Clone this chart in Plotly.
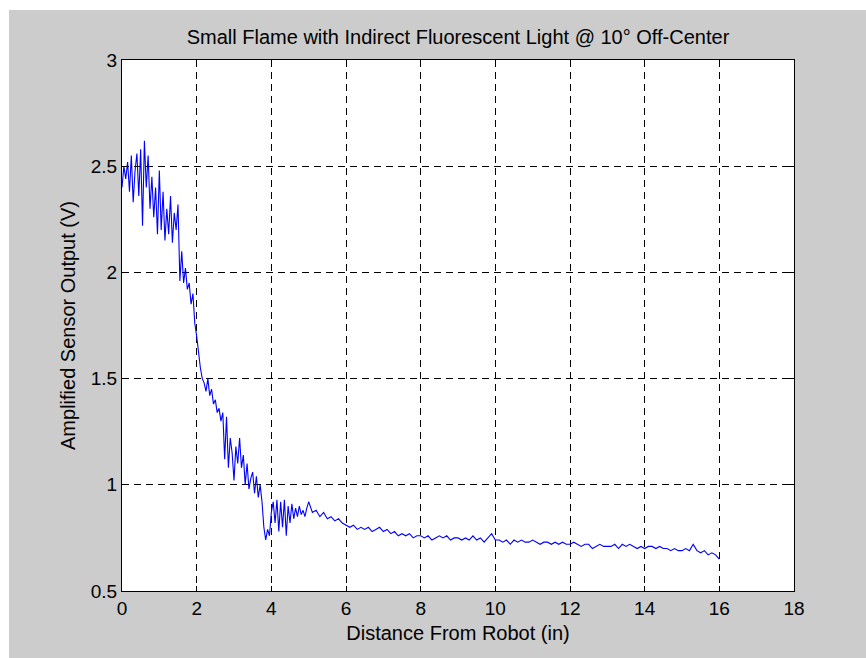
import numpy as np
import plotly.graph_objects as go

# Distances (in): fine sampling near the flame, coarser further away
dist_near = np.round(np.arange(0, 5.0001, 0.05), 2)
dist_far = np.round(np.arange(5.1, 16.0001, 0.1), 2)

volts_near = [
    2.40, 2.50, 2.44, 2.52, 2.38, 2.55, 2.33, 2.48, 2.56, 2.36,
    2.58, 2.22, 2.62, 2.40, 2.55, 2.30, 2.45, 2.26, 2.40, 2.18,
    2.48, 2.20, 2.38, 2.15, 2.30, 2.18, 2.36, 2.14, 2.28, 2.20,
    2.32, 1.96, 2.10, 1.95, 2.02, 1.92, 1.95, 1.85, 1.90, 1.76,
    1.70, 1.62, 1.55, 1.50, 1.48, 1.44, 1.50, 1.42, 1.45, 1.38,
    1.40, 1.34, 1.36, 1.30, 1.34, 1.12, 1.32, 1.08, 1.22, 1.15,
    1.02, 1.18, 1.10, 1.22, 1.08, 1.14, 1.00, 1.10, 0.98, 1.03,
    1.06, 0.96, 1.04, 0.94, 1.00, 0.92, 0.80, 0.74, 0.79, 0.76,
    0.87, 0.92, 0.82, 0.93, 0.78, 0.92, 0.80, 0.93, 0.76, 0.90,
    0.82, 0.91, 0.84, 0.89, 0.85, 0.90, 0.86, 0.88, 0.85, 0.89,
    0.92,
]
volts_far = [
    0.87, 0.88, 0.85, 0.87, 0.84, 0.85, 0.83, 0.84, 0.82, 0.81,
    0.80, 0.81, 0.79, 0.80, 0.79, 0.80, 0.78, 0.79, 0.80, 0.78,
    0.79, 0.77, 0.78, 0.76, 0.77, 0.76, 0.77, 0.75, 0.76, 0.76,
    0.75, 0.76, 0.74, 0.75, 0.76, 0.75, 0.76, 0.74, 0.75, 0.75,
    0.74, 0.75, 0.74, 0.76, 0.74, 0.75, 0.73, 0.75, 0.77, 0.74,
    0.74, 0.73, 0.74, 0.72, 0.74, 0.73, 0.74, 0.73, 0.73, 0.74,
    0.73, 0.72, 0.73, 0.73, 0.72, 0.73, 0.72, 0.73, 0.72, 0.72,
    0.73, 0.72, 0.71, 0.72, 0.72, 0.70, 0.71, 0.72, 0.71, 0.71,
    0.71, 0.72, 0.70, 0.72, 0.71, 0.72, 0.71, 0.70, 0.71, 0.70,
    0.71, 0.71, 0.70, 0.71, 0.70, 0.70, 0.69, 0.70, 0.69, 0.69,
    0.70, 0.69, 0.72, 0.69, 0.68, 0.69, 0.67, 0.68, 0.67, 0.65,
]

x_ticks = [0, 2, 4, 6, 8, 10, 12, 14, 16, 18]
y_ticks = [0.5, 1, 1.5, 2, 2.5, 3]
y_tick_text = ["0.5", "1", "1.5", "2", "2.5", "3"]

x = list(dist_near) + list(dist_far)
y = volts_near + volts_far

FONT = "Liberation Sans, Arial, sans-serif"
GRAY = "#cccccc"

fig = go.Figure()
fig.add_trace(go.Scatter(x=x, y=y, mode="lines",
                         line=dict(color="#0000ff", width=1.1),
                         showlegend=False, hoverinfo="x+y"))

W, H = 866, 658
L, T, R, B = 122, 60, 72, 67
pw, ph = W - L - R, H - T - B

axis_common = dict(
    showline=True, linecolor="black", linewidth=1, mirror="ticks",
    ticks="inside", ticklen=5, tickcolor="black",
    showgrid=True, gridcolor="black", gridwidth=1, griddash="7px,5px",
    zeroline=False, tickfont=dict(family=FONT, size=19, color="black"),
)

fig.update_layout(
    width=W, height=H,
    margin=dict(l=L, r=R, t=T, b=B, pad=0),
    paper_bgcolor=GRAY, plot_bgcolor="white",
    title=dict(text="Small Flame with Indirect Fluorescent Light @ 10° Off-Center",
               x=0.5, xref="paper", xanchor="center",
               y=(H - 37) / H, yanchor="middle",
               font=dict(family=FONT, size=20, color="black")),
    xaxis=dict(range=[0, 18], tickvals=x_ticks, **axis_common,
               title=dict(text="Distance From Robot (in)", standoff=8,
                          font=dict(family=FONT, size=20, color="black"))),
    yaxis=dict(range=[0.5, 3], tickvals=y_ticks, ticktext=y_tick_text, **axis_common,
               title=dict(text="Amplified Sensor Output (V)", standoff=9,
                          font=dict(family=FONT, size=20, color="black"))),
)

# white strips along the top and left edges of the image
fig.add_shape(type="rect", xref="paper", yref="paper", layer="below",
              x0=-L / pw, x1=(W - L) / pw, y0=(ph + T - 10) / ph, y1=(ph + T) / ph,
              fillcolor="white", line=dict(width=0))
fig.add_shape(type="rect", xref="paper", yref="paper", layer="below",
              x0=-L / pw, x1=(9 - L) / pw, y0=-B / ph, y1=(ph + T) / ph,
              fillcolor="white", line=dict(width=0))

fig.write_html("out.html", config={"displayModeBar": False},
               post_script="document.body.style.margin='0';document.body.style.overflow='hidden';")
